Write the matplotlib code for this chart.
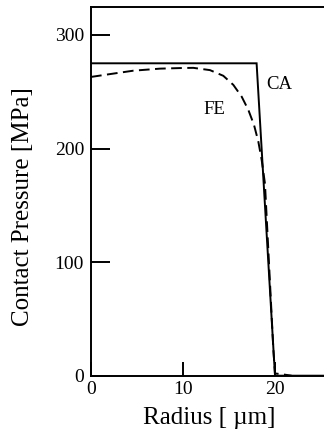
import matplotlib
matplotlib.use("Agg")
import matplotlib.pyplot as plt

# Data
ca_x = [0, 18, 20, 25.5]
ca_y = [275, 275, 0, 0]
fe_x = [0, 2.07, 4.6, 7.5, 9.67, 11.12, 12.93, 14.38, 15.47, 16.38, 17.1, 17.72, 18.19, 18.55, 18.91, 19.46, 19.82, 20.0, 21.0, 21.8]
fe_y = [263, 265.5, 268.5, 270.3, 270.8, 271, 269, 264, 256, 245.6, 234, 220.7, 206, 190, 169, 81, 23, 2, 1, 0]
xticks = [0, 10, 20]
yticks = [0, 100, 200, 300]

plt.rcParams['font.family'] = ['Liberation Serif', 'DejaVu Serif']

fig = plt.figure(figsize=(3.24, 4.34), dpi=100)
ax = fig.add_axes([91/324, (434-375.7)/434, (324-91)/324, (375.7-7)/434])
ax.set_xlim(0, (324-91)/9.2)
ax.set_ylim(0, (375.7-7)/1.136)

ax.plot(ca_x, ca_y, color='black', lw=1.4, solid_joinstyle='miter')
ax.plot(fe_x, fe_y, color='black', lw=1.4, linestyle=(0, (5.5, 2.8)))

ax.text(20.43, 256, 'CA', fontsize=13.5, ha='center', va='center')
ax.text(13.39, 234, 'FE', fontsize=13.5, ha='center', va='center')

ax.set_xticks(xticks)
ax.set_yticks(yticks)
ax.tick_params(axis='x', direction='in', length=10, width=1.4, labelsize=14, pad=4)
ax.tick_params(axis='y', direction='in', length=13.7, width=1.4, labelsize=14, pad=5)
for s in ['left', 'bottom', 'top']:
    ax.spines[s].set_linewidth(1.4)
ax.spines['right'].set_visible(False)

fig.text(209/324, 1 - 418/434, 'Radius [ µm]', fontsize=18, ha='center', va='center')
fig.text(23/324, 1 - 207/434, 'Contact Pressure [MPa]', fontsize=18, ha='center', va='center', rotation=90)

fig.savefig('out.png', dpi=100)
